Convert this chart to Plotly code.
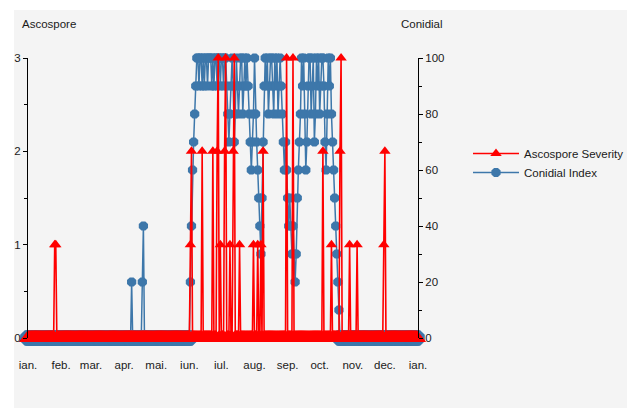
import pandas as pd
import plotly.graph_objects as go

# ---------------- data ----------------
MONTH_LABELS = ["ian.", "feb.", "mar.", "apr.", "mai.", "iun.", "iul.",
                "aug.", "sep.", "oct.", "nov.", "dec.", "ian."]
MONTH_TICKS = ["2023-01-01", "2023-02-01", "2023-03-01", "2023-04-01",
               "2023-05-01", "2023-06-01", "2023-07-01", "2023-08-01",
               "2023-09-01", "2023-10-01", "2023-11-01", "2023-12-01",
               "2024-01-01"]

# Ascospore severity: day-of-year (0 = 1 Jan) of non-zero days and their values
ASCO_DAYS = [25, 26, 152, 153, 163, 173, 177, 178, 180, 184, 185, 189, 192,
             193, 198, 211, 215, 218, 220, 242, 248, 276, 284, 292, 293, 301,
             308, 333, 334]
ASCO_VALUES = [1, 1, 1, 2, 2, 2, 2, 3, 1, 2, 3, 1, 2,
               3, 1, 1, 1, 1, 2, 3, 3, 2, 1, 2, 3, 1,
               1, 1, 2]

# Conidial index: isolated spring days
CONIDIAL_SPRING_DAYS = [97, 107, 108]
CONIDIAL_SPRING_VALUES = [20, 20, 40]
# Conidial index: daily values of the main season, starting at day 150
CONIDIAL_SEASON_START = 150
CONIDIAL_SEASON_VALUES = [
    0, 0, 20, 40, 60, 70, 80, 90,
    100, 100, 90, 100, 100, 90, 100, 90, 100, 100,
    90, 100, 100, 100, 90, 100, 90, 100, 100, 90,
    100, 100, 90, 100, 100, 90, 100, 100,
    90, 80, 70, 80, 90, 100, 90, 70, 80, 100,
    90, 80, 90, 100, 100, 80, 90, 100, 90, 100,
    90, 80, 70, 60, 70, 80, 100, 80, 70, 60, 50, 40, 30, 50, 70, 90,
    100, 90, 100, 80, 90, 100, 100, 90, 80, 100, 90, 100, 80, 90, 100, 90, 80,
    70, 60, 70, 60, 50, 40, 50, 40, 30, 40, 30, 20, 30, 50, 60, 70, 80,
    100, 90, 100, 80, 60, 70, 90, 100, 100, 80,
    90, 100, 70, 80, 100, 90, 100, 80, 90, 100,
    100, 90, 70, 60, 80, 100, 90, 100, 80, 70,
    60, 50, 40, 30, 20, 10, 0,
]

N_DAYS = 365
dates = pd.date_range("2023-01-01", periods=N_DAYS, freq="D")

asco = [0] * N_DAYS
for d, v in zip(ASCO_DAYS, ASCO_VALUES):
    asco[d] = v

conidial = [0] * N_DAYS
for d, v in zip(CONIDIAL_SPRING_DAYS, CONIDIAL_SPRING_VALUES):
    conidial[d] = v
for i, v in enumerate(CONIDIAL_SEASON_VALUES):
    conidial[CONIDIAL_SEASON_START + i] = v

RED = "#ff0000"
BLUE = "#3d77aa"
FONT = "Liberation Sans, Arial, sans-serif"
FS = 11.5
TXT = "#1a1a1a"

fig = go.Figure()

# Conidial index (right axis) - drawn first (below)
fig.add_trace(go.Scatter(
    x=dates, y=conidial, name="Conidial Index", mode="lines+markers",
    line=dict(color=BLUE, width=1.5),
    marker=dict(symbol="octagon", color=BLUE, opacity=1, line=dict(width=0),
                size=[17 if v == 0 else 10 for v in conidial]),
    opacity=1, yaxis="y", cliponaxis=False, showlegend=False,
))

# Ascospore severity (left axis) - drawn on top
fig.add_trace(go.Scatter(
    x=dates, y=asco, name="Ascospore Severity", mode="lines+markers",
    line=dict(color=RED, width=1.6),
    marker=dict(symbol="triangle-up", color=RED, opacity=1, line=dict(width=0),
                size=[16 if v == 0 else 10 for v in asco]),
    opacity=1, yaxis="y2", cliponaxis=False, showlegend=False,
))

# legend entries (same styling, uniform marker size)
fig.add_trace(go.Scatter(
    x=[None], y=[None], name="Ascospore Severity", mode="lines+markers",
    line=dict(color=RED, width=1.6),
    marker=dict(symbol="triangle-up", color=RED, size=10, line=dict(width=0)),
    yaxis="y2", legendrank=1,
))
fig.add_trace(go.Scatter(
    x=[None], y=[None], name="Conidial Index", mode="lines+markers",
    line=dict(color=BLUE, width=1.6),
    marker=dict(symbol="octagon", color=BLUE, size=10, line=dict(width=0)),
    yaxis="y", legendrank=2,
))

# the page body has an 8px margin: target pixel coordinates are shifted by it
OFF = 8
W, H = 637 - OFF, 408 - OFF
PLOT_L, PLOT_R, PLOT_T, PLOT_B = 28 - OFF, 418 - OFF, 58 - OFF, 338 - OFF
pw, ph = PLOT_R - PLOT_L, PLOT_B - PLOT_T

def px_x(x):
    return (x - OFF - PLOT_L) / pw

def px_y(y):
    return (PLOT_B - (y - OFF)) / ph

fig.update_layout(
    width=W, height=H, autosize=False,
    margin=dict(l=PLOT_L, r=W - PLOT_R, t=PLOT_T, b=H - PLOT_B, pad=0, autoexpand=False),
    paper_bgcolor="white", plot_bgcolor="rgba(0,0,0,0)",
    font=dict(family=FONT, size=FS, color=TXT),
    showlegend=True,
    legend=dict(x=px_x(468), y=px_y(139), xanchor="left", yanchor="top",
                bgcolor="rgba(0,0,0,0)", font=dict(size=FS, family=FONT, color=TXT),
                itemwidth=46, tracegroupgap=0),
    xaxis=dict(type="date", range=["2023-01-01", "2024-01-01"],
               tickvals=MONTH_TICKS, ticktext=MONTH_LABELS,
               ticks="outside", ticklen=16, tickcolor="rgba(0,0,0,0)",
               showgrid=False, showline=False, zeroline=False, automargin=False,
               tickfont=dict(size=FS, family=FONT, color=TXT)),
    yaxis=dict(range=[0, 100], side="right", tickvals=[0, 20, 40, 60, 80, 100],
               ticks="outside", ticklen=4, tickcolor="black",
               showline=True, linecolor="black", linewidth=1,
               showgrid=False, zeroline=False, automargin=False,
               minor=dict(tickvals=[10, 30, 50, 70, 90], ticks="outside",
                          ticklen=3, tickcolor="black"),
               tickfont=dict(size=FS, family=FONT, color=TXT)),
    yaxis2=dict(range=[0, 3], side="left", overlaying="y",
                tickvals=[0, 1, 2, 3],
                ticks="outside", ticklen=4, tickcolor="black",
                showline=True, linecolor="black", linewidth=1,
                showgrid=False, zeroline=False, automargin=False,
                minor=dict(tickvals=[0.5, 1.5, 2.5], ticks="outside",
                           ticklen=3, tickcolor="black"),
                tickfont=dict(size=FS, family=FONT, color=TXT)),
    shapes=[dict(type="rect", xref="paper", yref="paper", layer="below",
                 x0=px_x(14), x1=px_x(627), y0=px_y(420), y1=px_y(10),
                 fillcolor="#f4f4f4", line=dict(width=0))],
    annotations=[
        dict(text="Ascospore", xref="paper", yref="paper", x=px_x(20), y=px_y(24),
             xanchor="left", yanchor="middle", showarrow=False,
             font=dict(size=FS, family=FONT, color=TXT)),
        dict(text="Conidial", xref="paper", yref="paper", x=px_x(399), y=px_y(24),
             xanchor="left", yanchor="middle", showarrow=False,
             font=dict(size=FS, family=FONT, color=TXT)),
    ],
)

fig.write_html("out.html")
